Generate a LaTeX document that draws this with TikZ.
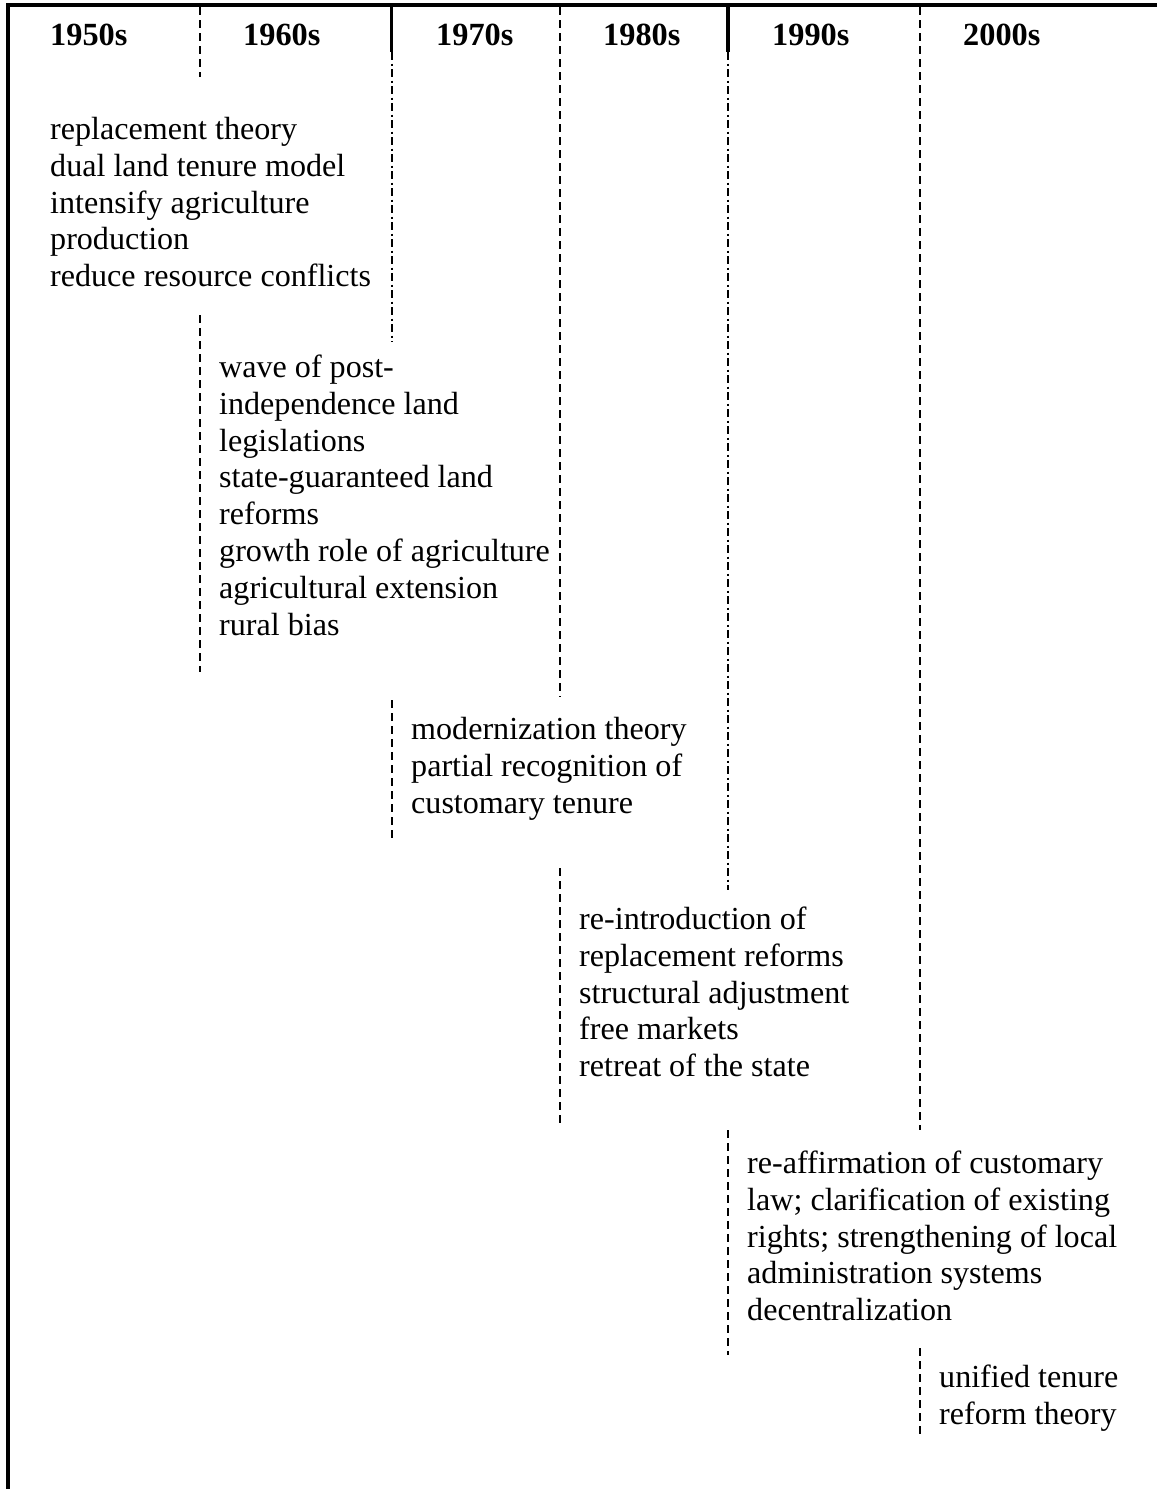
\documentclass[tikz,border=0pt]{standalone}
\usepackage{fontspec}
\setmainfont{Liberation Serif}
\begin{document}
\begin{tikzpicture}[x=1pt,y=-1pt,
  frame/.style={line width=3.2pt},
  headrule/.style={line width=3.2pt},
  colsep/.style={line width=2pt, dash pattern=on 8pt off 5pt},
  dashdotsep/.style={line width=2pt, dash pattern=on 8pt off 3.5pt on 2pt off 3.5pt},
  decade/.style={font=\bfseries\fontsize{32.3}{37}\selectfont, anchor=base west, inner sep=0pt},
  themes/.style={font=\fontsize{32.1}{36.9}\selectfont, align=left, anchor=north west, inner sep=0pt}]
\useasboundingbox (0,0) rectangle (1157,1489);

% outer frame: top and left edges
\draw[frame] (8,1489) -- (8,5) -- (1157,5);

% solid header dividers
\draw[headrule] (391.5,5) -- (391.5,52);
\draw[headrule] (728,5) -- (728,52);

% dashed column dividers from the top
\draw[colsep] (200,7) -- (200,77);
\draw[colsep] (560,7) -- (560,697);
\draw[colsep] (920,7) -- (920,1130);

% dash-dotted dividers below the header
\draw[dashdotsep] (391.5,52) -- (391.5,342);
\draw[dashdotsep] (728,52) -- (728,890);

% left markers of the later periods
\draw[colsep] (200,315) -- (200,672);
\draw[colsep] (391.5,700) -- (391.5,838);
\draw[colsep] (560,868) -- (560,1127);
\draw[colsep] (728,1130) -- (728,1355);
\draw[colsep] (920,1348) -- (920,1438);

% decade headings
\node[decade] (d50) at (50,45) {1950s};
\node[decade] (d60) at (243,45) {1960s};
\node[decade] (d70) at (436,45) {1970s};
\node[decade] (d80) at (603,45) {1980s};
\node[decade] (d90) at (772,45) {1990s};
\node[decade] (d00) at (963,45) {2000s};

% themes of each period
\node[themes] (p1) at (50,113.2) {\strut replacement theory\\dual land tenure model\\intensify agriculture\\production\\reduce resource conflicts};
\node[themes] (p2) at (219,351.2) {\strut wave of post-\\independence land\\legislations\\state-guaranteed land\\reforms\\growth role of agriculture\\agricultural extension\\rural bias};
\node[themes] (p3) at (411,713.2) {\strut modernization theory\\partial recognition of\\customary tenure};
\node[themes] (p4) at (579,903.2) {\strut re-introduction of\\replacement reforms\\structural adjustment\\free markets\\retreat of the state};
\node[themes] (p5) at (747,1147.2) {\strut re-affirmation of customary\\law; clarification of existing\\rights; strengthening of local\\administration systems\\decentralization};
\node[themes] (p6) at (939,1361.2) {\strut unified tenure\\reform theory};
\end{tikzpicture}
\end{document}
